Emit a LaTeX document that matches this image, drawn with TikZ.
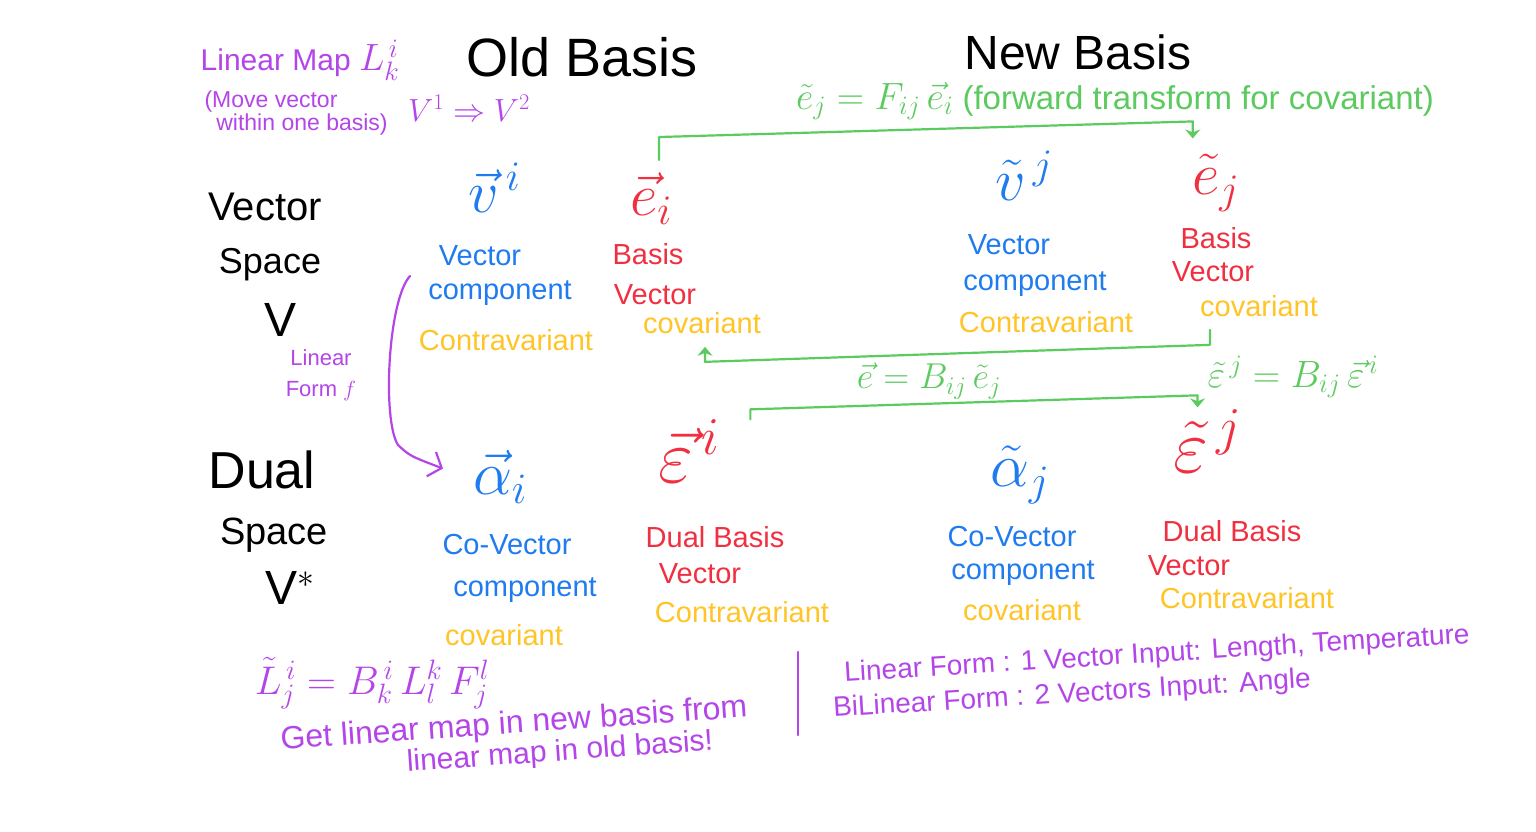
\RequirePackage{fix-cm}
\documentclass[tikz,border=0pt]{standalone}
\usepackage{fontspec}
\setmainfont{Liberation Sans}
\usetikzlibrary{arrows.meta,calc}
\definecolor{hpurple}{HTML}{B445E8}
\definecolor{hblue}{HTML}{1E7BF0}
\definecolor{hred}{HTML}{F03040}
\definecolor{hyellow}{HTML}{FFC426}
\definecolor{hgreen}{HTML}{5CCB5F}
\begin{document}
\begin{tikzpicture}[x=1pt,y=1pt,
  txt/.style={inner sep=0pt,font=\fontsize{#1}{#1}\selectfont},
  lbl/.style={inner sep=0pt,font=\fontsize{29}{31}\selectfont},
  bl/.style={lbl,text=hblue},
  rd/.style={lbl,text=hred},
  yl/.style={lbl,text=hyellow},
  sym/.style={inner sep=0pt,anchor=base west,font=\fontsize{#1}{#1}\selectfont},
  garrow/.style={draw=hgreen,line width=2.2pt,line cap=round,line join=round,-{Stealth[length=9pt,width=15pt]}},
]
\useasboundingbox (0,0) rectangle (1536,-832);
\fill[white] (0,0) rectangle (1536,-832);

% headings
\node[txt=54] (old) at (582,-57) {Old Basis};
\node[txt=48] (new) at (1078,-52) {New Basis};

% purple top-left
\node[txt=30,text=hpurple] (lmap) at (300,-60) {Linear Map {\fontsize{38}{38}\selectfont$L^{\,i}_{k}$}};
\node[txt=23,text=hpurple] (move1) at (271,-102) {(Move vector};
\node[txt=23,text=hpurple] (move2) at (302,-125) {within one basis)};
\node[txt=32,text=hpurple] (vmap) at (469,-108) {$V^1 \Rightarrow V^2$};

% left black labels
\node[txt=40] (vs1) at (265,-207) {Vector};
\node[txt=36] (vs2) at (270,-265) {Space};
\node[txt=48] (vs3) at (281,-320) {V};
\node[txt=52] (ds1) at (262,-470) {Dual};
\node[txt=38] (ds2) at (274,-535) {Space};
\node[txt=48] (ds3) at (290,-588) {V$^{*}$};

\node[txt=22,text=hpurple] (lf1) at (321,-358) {Linear};
\node[txt=22,text=hpurple] (lf2) at (321,-391) {Form $f$};

% row 1 symbols
\node[sym=60,text=hblue] (vi) at (468,-212) {$\vec{v}^{\,i}$};
\node[sym=60,text=hred] (ei) at (630,-215) {$\vec{e}_{i}$};
\node[sym=60,text=hblue] (vtj) at (995,-200) {$\tilde{v}^{\,j}$};
\node[sym=60,text=hred] (etj) at (1192,-194) {$\tilde{e}_{j}$};

% row 1 labels
\node[bl] (b1a) at (480,-256) {Vector};
\node[bl] (b1b) at (500,-293) {component};
\node[yl] (y1) at (506,-340) {Contravariant};
\node[rd] (r1a) at (648,-254) {Basis};
\node[rd] (r1b) at (655,-295) {Vector};
\node[yl] (y2) at (702,-323) {covariant};
\node[bl] (b2a) at (1009,-245) {Vector};
\node[bl] (b2b) at (1035,-284) {component};
\node[yl] (y3) at (1046,-322) {Contravariant};
\node[rd] (r2a) at (1216,-238) {Basis};
\node[rd] (r2b) at (1213,-272) {Vector};
\node[yl] (y4) at (1259,-306) {covariant};

% row 2 symbols
\node[sym=62,text=hblue] (ai) at (473,-494) {$\vec{\alpha}_{i}$};
\node[sym=76,text=hred] (epi) at (658,-482) {$\vec{\varepsilon}^{\,i}$};
\node[sym=62,text=hblue] (atj) at (990,-486) {$\tilde{\alpha}_{j}$};
\node[sym=76,text=hred] (eptj) at (1173,-472) {$\tilde{\varepsilon}^{\,j}$};

% row 2 labels
\node[bl] (b3a) at (507,-545) {Co-Vector};
\node[bl] (b3b) at (525,-590) {component};
\node[yl] (y5) at (504,-635) {covariant};
\node[rd] (r3a) at (715,-537) {Dual Basis};
\node[rd] (r3b) at (700,-574) {Vector};
\node[yl] (y6) at (742,-612) {Contravariant};
\node[bl] (b4a) at (1012,-537) {Co-Vector};
\node[bl] (b4b) at (1023,-573) {component};
\node[yl] (y7) at (1022,-610) {covariant};
\node[rd] (r4a) at (1232,-531) {Dual Basis};
\node[rd] (r4b) at (1189,-566) {Vector};
\node[yl] (y8) at (1247,-598) {Contravariant};

% green labels
\node[txt=33,text=hgreen] (g1) at (1115,-101) {{\fontsize{38}{38}\selectfont$\tilde{e}_{j} = F_{ij}\,\vec{e}_{i}$} (forward transform for covariant)};
\node[txt=36,text=hgreen] (g2) at (929,-381) {$\vec{e} = B_{ij}\,\tilde{e}_{j}$};
\node[txt=38,text=hgreen] (g3) at (1293,-377) {$\tilde{\varepsilon}^{\,j} = B_{ij}\,\vec{\varepsilon}^{\,i}$};

% green connectors
\draw[garrow] ([xshift=8pt,yshift=12pt]ei.north) -- ++(0,23)
  -- ([xshift=-23pt,yshift=33pt]etj.north) -- ([xshift=-23pt,yshift=16pt]etj.north);
\draw[garrow] ([xshift=10pt,yshift=-13pt]y4.south west) -- ++(0,-15)
  -- ([xshift=3pt,yshift=-28pt]y2.south) -- ([xshift=3pt,yshift=-13pt]y2.south);
\draw[garrow] ([xshift=30pt,yshift=0pt]epi.north east) -- ++(0,10)
  -- ([xshift=-10pt,yshift=14pt]eptj.north) -- ([xshift=-10pt,yshift=2pt]eptj.north);

% purple linear form arrow
\coordinate (fstart) at (410,-276);
\draw[draw=hpurple,line width=2.2pt,line cap=round,line join=round,-{Straight Barb[length=11pt,width=26pt]}]
  (fstart) .. controls (388,-300) and (382,-420) .. (398,-445)
  .. controls (410,-456) .. ([xshift=-30pt,yshift=8pt]ai.west);

% bottom purple
\node[txt=40,text=hpurple,anchor=base] (lt) at (372,-694) {$\tilde{L}^{\,i}_{j} = B^{\,i}_{k}\,L^{k}_{l}\,F^{l}_{j}$};
\node[txt=32,text=hpurple,rotate=4] (gl1) at (514,-725) {Get linear map in new basis from};
\node[txt=30,text=hpurple,rotate=4] (gl2) at (560,-753) {linear map in old basis!};
\coordinate (bartop) at (798,-652);
\coordinate (barbot) at (798,-735);
\draw[hpurple,line width=2.2pt,line cap=round] (bartop) -- (barbot);
\node[txt=28,text=hpurple,rotate=3.5] (lfa) at (1157,-655) {Linear Form : 1 Vector Input: Length, Temperature};
\node[txt=28,text=hpurple,rotate=3.5] (lfb) at (1072,-695) {BiLinear Form : 2 Vectors Input: Angle};
\end{tikzpicture}
\end{document}
